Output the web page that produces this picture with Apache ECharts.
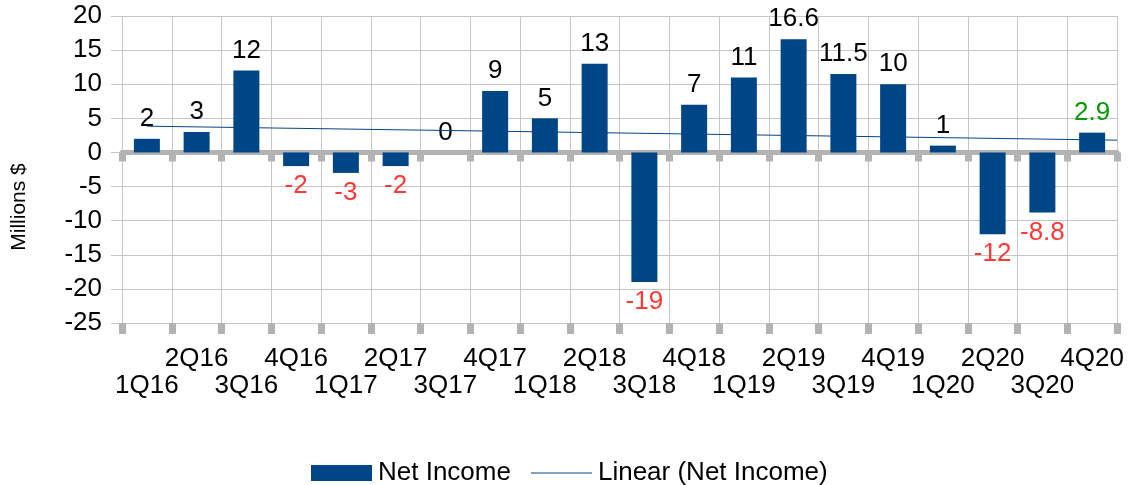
<!DOCTYPE html>
<html>
<head>
<meta charset="utf-8">
<script src="https://cdn.jsdelivr.net/npm/echarts@6/dist/echarts.min.js"></script>
<style>
  html, body { margin: 0; padding: 0; background: #fff; }
  #chart { width: 1129px; height: 485px; }
</style>
</head>
<body>
<div id="chart"></div>
<script>
var quarters = ['1Q16', '2Q16', '3Q16', '4Q16', '1Q17', '2Q17', '3Q17', '4Q17', '1Q18', '2Q18',
  '3Q18', '4Q18', '1Q19', '2Q19', '3Q19', '4Q19', '1Q20', '2Q20', '3Q20', '4Q20']
var netIncome = [2, 3, 12, -2, -3, -2, 0, 9, 5, 13, -19, 7, 11, 16.6, 11.5, 10, 1, -12, -8.8, 2.9]
// trendline end points (x in category units, 1 = first quarter)
var trendX = [1, 20.5]
var trendY = [3.85, 1.8]
var yMin = -25
var yMax = 20
var yStep = 5

var FONT = 'Liberation Sans, Arial, sans-serif'
var BLUE = '#004586'
var GRID = '#c6c6c6'
var AXIS = '#b3b3b3'

var chartDom = document.getElementById('chart')
var myChart = echarts.init(chartDom)

var barData = netIncome.map(function (v, i) {
  var color = v < 0 ? '#ff3838' : '#000'
  if (i === netIncome.length - 1) color = '#069a06'
  return {
    value: v,
    label: { position: v < 0 ? 'bottom' : 'top', color: color }
  }
})

var option = {
  animation: false,
  textStyle: { fontFamily: FONT },
  grid: { left: 122, right: 12, top: 16, bottom: 162 },
  legend: {
    top: 455,
    left: 306,
    itemWidth: 61,
    itemHeight: 16,
    itemGap: 20,
    textStyle: { fontSize: 26, color: '#000', fontFamily: FONT, padding: [0, 0, 0, 1] },
    data: [
      { name: 'Net Income', icon: 'rect' },
      { name: 'Linear (Net Income)', icon: 'path://M0,0 L61,0 L61,1 L0,1 Z' }
    ]
  },
  graphic: [{
    type: 'text',
    x: 19,
    y: 207,
    rotation: Math.PI / 2,
    style: {
      text: 'Millions $',
      fontSize: 21,
      fontFamily: FONT,
      fill: '#000',
      align: 'center',
      verticalAlign: 'middle'
    }
  }],
  xAxis: [
    {
      // zero line with hanging ticks
      type: 'category',
      data: quarters,
      position: 'bottom',
      axisLine: { onZero: true, lineStyle: { color: AXIS, width: 5 } },
      axisTick: { show: true, length: 9, lineStyle: { color: AXIS, width: 7 } },
      axisLabel: { show: false },
      splitLine: { show: true, lineStyle: { color: GRID, width: 1 } }
    },
    {
      // bottom axis carrying the quarter labels
      type: 'category',
      data: quarters,
      position: 'bottom',
      axisLine: { show: false, onZero: false },
      axisTick: { show: true, length: 11, lineStyle: { color: AXIS, width: 7 } },
      axisLabel: {
        interval: 0,
        margin: 22,
        fontSize: 26,
        lineHeight: 27,
        color: '#000',
        formatter: function (v, i) { return i % 2 === 0 ? '\n' + v : v }
      },
      splitLine: { show: false }
    },
    {
      type: 'value',
      position: 'top',
      min: 0.5,
      max: 20.5,
      show: false
    }
  ],
  yAxis: {
    type: 'value',
    min: yMin,
    max: yMax,
    interval: yStep,
    axisLine: { show: false },
    axisTick: { show: true, length: 11, lineStyle: { color: GRID } },
    axisLabel: { fontSize: 26, color: '#000', margin: 20 },
    splitLine: { show: true, lineStyle: { color: GRID, width: 1 } }
  },
  series: [
    {
      name: 'Net Income',
      type: 'bar',
      xAxisIndex: 0,
      barWidth: 26,
      itemStyle: { color: BLUE },
      label: { show: true, fontSize: 26, distance: 7, fontFamily: FONT },
      data: barData
    },
    {
      name: 'Linear (Net Income)',
      type: 'line',
      xAxisIndex: 2,
      symbol: 'none',
      z: 3,
      lineStyle: { color: BLUE, width: 1 },
      itemStyle: { color: BLUE },
      data: trendX.map(function (x, i) { return [x, trendY[i]] })
    }
  ]
}

option && myChart.setOption(option)
</script>
</body>
</html>
